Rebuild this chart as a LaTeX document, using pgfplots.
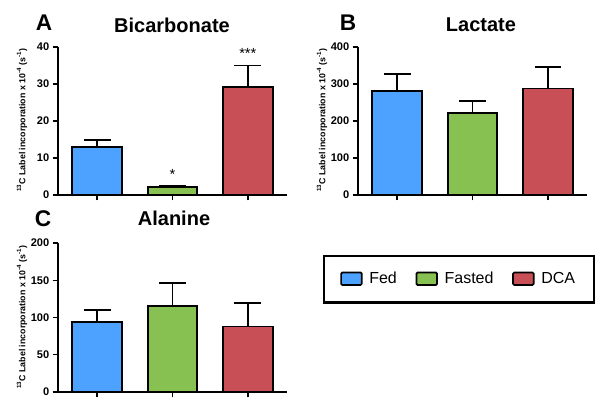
\documentclass[border=0pt]{standalone}
\usepackage{pgfplots}
\pgfplotsset{compat=1.18}
\usepackage{fontspec}
\setmainfont{Liberation Sans}

\definecolor{fedblue}{HTML}{4DA2FF}
\definecolor{fastgreen}{HTML}{87C152}
\definecolor{dcared}{HTML}{C94F56}

\pgfplotsset{
  panel/.style={
    scale only axis,
    width=171.75pt,
    anchor=south west,
    axis x line=bottom, axis y line=left,
    axis line style={line width=1.1pt, -},
    xmin=0.48, xmax=3.52, ymin=0,
    xtick={1,2,3}, xticklabels={},
    tick align=outside, major tick length=4pt,
    tick style={line width=1.1pt, black},
    /pgf/number format/assume math mode=true,
    yticklabel style={font=\bfseries\fontsize{8.3}{9}\selectfont, xshift=1pt},
    bar width=0.66, ybar, bar shift=0pt,
    clip=false,
  },
  bar/.style={
    draw=black, line width=1.4pt, fill=#1,
    error bars/.cd, y dir=plus, y explicit,
    error bar style={line width=1.4pt, black},
    error mark options={rotate=90, mark size=10pt, line width=1.4pt, black},
  },
}
\newcommand{\ylab}{\textsuperscript{13}C Label incorporation x 10\textsuperscript{-4} (s\textsuperscript{-1})}

\begin{document}
\begin{tikzpicture}[x=0.75pt, y=0.75pt]
\path[use as bounding box] (0,0) rectangle (600,418);

% Panel A
\begin{axis}[panel, at={(43.5pt,167.25pt)}, height=111pt, ymax=40, ytick={0,10,20,30,40}]
\addplot[bar=fedblue] coordinates {(1,13) +- (0,1.8)};
\addplot[bar=fastgreen] coordinates {(2,2.1) +- (0,0.4)};
\addplot[bar=dcared] coordinates {(3,29.1) +- (0,5.9)};
\node[font=\fontsize{11}{12}\selectfont] at (axis cs:2,5.6) {*};
\node[font=\fontsize{11}{12}\selectfont] at (axis cs:3,38.3) {***};
\end{axis}

% Panel B
\begin{axis}[panel, at={(268.5pt,167.25pt)}, height=111pt, ymax=400, ytick={0,100,200,300,400}]
\addplot[bar=fedblue] coordinates {(1,282) +- (0,45)};
\addplot[bar=fastgreen] coordinates {(2,222) +- (0,31)};
\addplot[bar=dcared] coordinates {(3,288) +- (0,59)};
\end{axis}

% Panel C
\begin{axis}[panel, at={(43.5pt,19.5pt)}, height=111.75pt, ymax=200, ytick={0,50,100,150,200},
  legend columns=3,
  legend style={at={(1.751,0.758)}, anchor=center, draw=black, line width=1.6pt,
    font=\fontsize{12}{14}\selectfont, inner xsep=12.5pt, inner ysep=10.5pt,
    /tikz/every odd column/.append style={column sep=3pt},
    /tikz/every even column/.append style={column sep=12pt}},
  legend image code/.code={\draw[#1, draw=black, line width=1.3pt, rounded corners=1pt] (0pt,-4.5pt) rectangle (15.5pt,5pt);},
]
\addplot[bar=fedblue] coordinates {(1,94) +- (0,16.5)};
\addplot[bar=fastgreen] coordinates {(2,116) +- (0,30)};
\addplot[bar=dcared] coordinates {(3,88) +- (0,32)};
\legend{Fed, Fasted, DCA}
\end{axis}

% titles and panel letters
\begin{scope}[every node/.style={font=\bfseries\fontsize{15}{16}\selectfont}]
\node at (172,393) {Bicarbonate};
\node at (481,393) {Lactate};
\node at (174,200) {Alanine};
\end{scope}
\begin{scope}[every node/.style={font=\bfseries\fontsize{17}{18}\selectfont}]
\node at (44,395) {A};
\node at (348,395) {B};
\node at (43,199) {C};
\end{scope}

% y labels
\begin{scope}[every node/.style={rotate=90, font=\bfseries\fontsize{6.6}{7}\selectfont}]
\node at (22,298) {\ylab};
\node at (322,298) {\ylab};
\node at (22,101) {\ylab};
\end{scope}
\end{tikzpicture}
\end{document}
